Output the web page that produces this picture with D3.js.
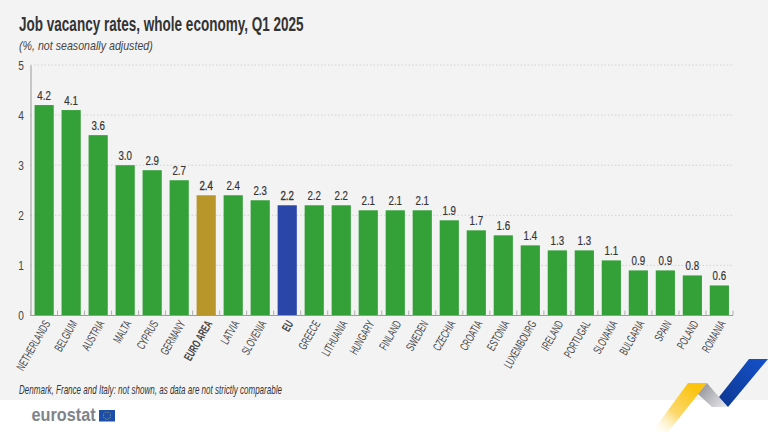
<!DOCTYPE html>
<html><head><meta charset="utf-8">
<script src="https://cdn.jsdelivr.net/npm/d3@7/dist/d3.min.js"></script>
<style>
html,body{margin:0;padding:0;background:#fff}
svg{display:block}
text{font-family:"Liberation Sans",sans-serif}
</style></head><body>
<svg id="c" width="768" height="432"></svg>
<script>
const categories=["NETHERLANDS","BELGIUM","AUSTRIA","MALTA","CYPRUS","GERMANY","EURO AREA","LATVIA","SLOVENIA","EU","GREECE","LITHUANIA","HUNGARY","FINLAND","SWEDEN","CZECHIA","CROATIA","ESTONIA","LUXEMBOURG","IRELAND","PORTUGAL","SLOVAKIA","BULGARIA","SPAIN","POLAND","ROMANIA"];
const values=[4.2,4.1,3.6,3.0,2.9,2.7,2.4,2.4,2.3,2.2,2.2,2.2,2.1,2.1,2.1,1.9,1.7,1.6,1.4,1.3,1.3,1.1,0.9,0.9,0.8,0.6];
const yTicks=[0,1,2,3,4,5];
const titleText="Job vacancy rates, whole economy, Q1 2025";
const subtitleText="(%, not seasonally adjusted)";
const noteText="Denmark, France and Italy: not shown, as data are not strictly comparable";
const barColor={"EURO AREA":"#b8962a","EU":"#2a46a8"};
const defaultColor="#33a038";

const svg=d3.select("#c");
const defs=svg.append("defs");
svg.append("rect").attr("width",768).attr("height",400).attr("fill","#f3f3f3");

const x=d3.scaleBand().domain(categories).range([30.5,733]).paddingInner(0.29).paddingOuter(0.15);
const y=d3.scaleLinear().domain([0,5]).range([315.5,65]);

// gridlines
svg.append("g").selectAll("line").data(yTicks.slice(1)).join("line")
 .attr("x1",30.5).attr("x2",733).attr("y1",d=>y(d)).attr("y2",d=>y(d))
 .attr("stroke","#c9c9c9").attr("stroke-width",0.8).attr("stroke-dasharray","1.5 2");

// y axis
const yAxis=svg.append("g").attr("transform","translate(30.5,0)").call(d3.axisLeft(y).tickValues(yTicks).tickSize(0).tickPadding(6).tickFormat(d3.format("d")));
yAxis.select(".domain").attr("stroke","#9a9a9a").attr("stroke-width",1);
yAxis.selectAll("text").attr("x",null).attr("dy",null).attr("y",0)
 .attr("transform","translate(-6.5,4) scale(.78,1)")
 .attr("font-size",13).attr("fill","#444").attr("font-family","Liberation Sans");

// bars
svg.append("g").selectAll("rect").data(categories).join("rect")
 .attr("x",d=>x(d)).attr("width",x.bandwidth())
 .attr("y",(d,i)=>y(values[i])).attr("height",(d,i)=>y(0)-y(values[i]))
 .attr("fill",d=>barColor[d]||defaultColor);

// x axis
const tickPos=d3.range(categories.length+1).map(i=>30.5+i*(733-30.5)/categories.length);
svg.append("line").attr("x1",30.5).attr("x2",733).attr("y1",y(0)).attr("y2",y(0)).attr("stroke","#9a9a9a").attr("stroke-width",1);
svg.append("g").selectAll("line").data(tickPos).join("line")
 .attr("x1",d=>d).attr("x2",d=>d).attr("y1",y(0)-5).attr("y2",y(0))
 .attr("stroke","#b0b0b0").attr("stroke-width",1);

// value labels
svg.append("g").selectAll("text").data(categories).join("text")
 .attr("transform",(d,i)=>`translate(${x(d)+x.bandwidth()/2},${y(values[i])-5}) scale(.75,1)`)
 .attr("text-anchor","middle").attr("font-size",13).attr("fill","#333")
 .attr("stroke","#333").attr("stroke-width",d=>barColor[d]?0.35:0.2)
 .text((d,i)=>values[i].toFixed(1));

// category labels
svg.append("g").selectAll("text").data(categories).join("text")
 .attr("transform",d=>`translate(${x(d)+x.bandwidth()/2+6.5},${y(0)+8}) rotate(-60) scale(.62,1)`)
 .attr("text-anchor","end").attr("font-size",12).attr("fill","#444")
 .attr("font-weight",d=>barColor[d]?"bold":"normal")
 .text(d=>d);

// headings
svg.append("text").attr("transform","translate(19,31) scale(.66,1)").attr("font-size",20.5).attr("font-weight","bold").attr("fill","#333").text(titleText);
svg.append("text").attr("transform","translate(19,50) scale(.82,1)").attr("font-size",13).attr("font-style","italic").attr("fill","#444").text(subtitleText);
svg.append("text").attr("transform","translate(19,394) scale(.67,1)").attr("font-size",12).attr("font-style","italic").attr("fill","#333").text(noteText);

// logo
svg.append("text").attr("transform","translate(31.5,421) scale(.93,1)").attr("font-size",17.5).attr("font-weight","bold").attr("fill","#808489").text("eurostat");
svg.append("rect").attr("x",99).attr("y",410).attr("width",16).attr("height",11.5).attr("fill","#1d4fa8");
const stars=d3.range(12).map(i=>i*Math.PI/6);
svg.append("g").selectAll("circle").data(stars).join("circle")
 .attr("cx",d=>107+3.6*Math.cos(d)).attr("cy",d=>415.7+3.6*Math.sin(d)).attr("r",0.45).attr("fill","#f5d33a");

// ribbons
function grad(id,x1,y1,x2,y2,stops){
 const g=defs.append("linearGradient").attr("id",id).attr("gradientUnits","userSpaceOnUse").attr("x1",x1).attr("y1",y1).attr("x2",x2).attr("y2",y2);
 stops.forEach(s=>g.append("stop").attr("offset",s[0]).attr("stop-color",s[1]).attr("stop-opacity",s[2]));
}
grad("gy",690,385,650,432,[[0,"#fcc40f",1],[0.5,"#fbd45a",0.9],[1,"#fff",0]]);
grad("gg",705,385,730,405,[[0,"#9c9ca3",1],[1,"#ecedef",1]]);
grad("gb",765,360,725,405,[[0,"#1550c8",1],[1,"#0e3a96",1]]);
const line=d3.line();
svg.append("path").attr("d",line([[688,383],[707,383],[668,432],[652,432]])+"Z").attr("fill","url(#gy)");
svg.append("path").attr("d",line([[707,383],[719,397],[728,407],[712,407],[698,394]])+"Z").attr("fill","url(#gg)");
svg.append("path").attr("d",line([[749,359],[768,359],[728,407],[719,397]])+"Z").attr("fill","url(#gb)");
</script>
</body></html>
